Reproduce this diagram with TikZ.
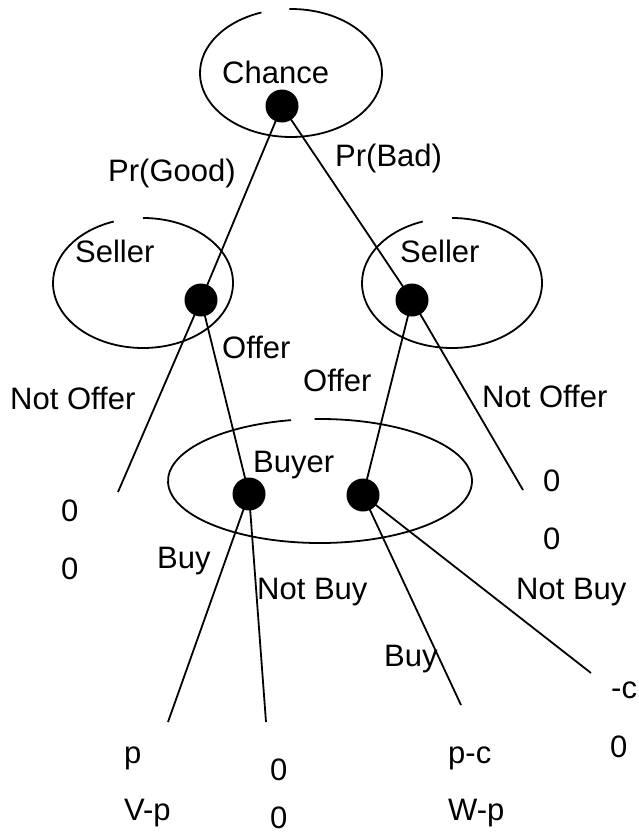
\documentclass[tikz,border=0pt]{standalone}
\usepackage{fontspec}
\setmainfont{Liberation Sans}
\begin{document}
\begin{tikzpicture}[x=1pt,y=-1pt,
  dot/.style={circle,fill=black,draw=none,minimum size=33pt,inner sep=0pt},
  lbl/.style={anchor=base west,inner sep=0pt,font=\fontsize{31}{37}\selectfont},
  edge/.style={line width=1.8pt},
  infoset/.style={line width=1.8pt}]
\useasboundingbox (0,0) rectangle (639,835);
% information-set ellipses (with small gap at top)
\draw[infoset] (291,73) ++(269:91 and 64) arc[start angle=269,end angle=611,x radius=91,y radius=64];
\draw[infoset] (143,283) ++(270:90 and 65) arc[start angle=270,end angle=611,x radius=90,y radius=65];
\draw[infoset] (452,283) ++(270:90 and 65) arc[start angle=270,end angle=611,x radius=90,y radius=65];
\draw[infoset] (320,481) ++(268:152 and 62) arc[start angle=268,end angle=619,x radius=152,y radius=62];
% decision nodes
\node[dot] (c) at (282,106) {};
\node[dot] (sl) at (201,300) {};
\node[dot] (sr) at (412,300) {};
\node[dot] (bl) at (249,494) {};
\node[dot] (br) at (363,495) {};
% terminal ends
\coordinate (tnl) at (118,492);
\coordinate (tnr) at (523,490);
\coordinate (tbl) at (168,722);
\coordinate (tnbl) at (266,722);
\coordinate (tbr) at (461,705);
\coordinate (tnbr) at (591,673);
% edges
\draw[edge] (c.center) -- (sl.center);
\draw[edge] (c.center) -- (sr.center);
\draw[edge] (sl.center) -- (tnl);
\draw[edge] (sl.center) -- (bl.center);
\draw[edge] (sr.center) -- (br.center);
\draw[edge] (sr.center) -- (tnr);
\draw[edge] (bl.center) -- (tbl);
\draw[edge] (bl.center) -- (tnbl);
\draw[edge] (br.center) -- (tbr);
\draw[edge] (br.center) -- (tnbr);
% labels
\node[lbl] (lc) at (222,83) {Chance};
\node[lbl] (lsl) at (75,262) {Seller};
\node[lbl] (lsr) at (400,262) {Seller};
\node[lbl] (lb) at (253,472) {Buyer};
\node[lbl] (lpg) at (108,181) {Pr(Good)};
\node[lbl] (lpb) at (335,166) {Pr(Bad)};
\node[lbl] (lol) at (222,358) {Offer};
\node[lbl] (lnol) at (10,409) {Not Offer};
\node[lbl] (lor) at (303,391) {Offer};
\node[lbl] (lnor) at (482,407) {Not Offer};
\node[lbl] (lbyl) at (157,568) {Buy};
\node[lbl] (lnbl) at (257,599) {Not Buy};
\node[lbl] (lnbr) at (516,599) {Not Buy};
\node[lbl] (lbyr) at (384,666) {Buy};
% payoffs
\node[lbl] (p1a) at (61,521) {0};
\node[lbl] (p1b) at (61,579) {0};
\node[lbl] (p2a) at (543,491) {0};
\node[lbl] (p2b) at (543,549) {0};
\node[lbl] (p3a) at (124,763) {p};
\node[lbl] (p3b) at (124,820) {V-p};
\node[lbl] (p4a) at (270,780) {0};
\node[lbl] (p4b) at (270,828) {0};
\node[lbl] (p5a) at (448,763) {p-c};
\node[lbl] (p5b) at (448,820) {W-p};
\node[lbl] (p6a) at (611,698) {-c};
\node[lbl] (p6b) at (610,757) {0};
\end{tikzpicture}
\end{document}
